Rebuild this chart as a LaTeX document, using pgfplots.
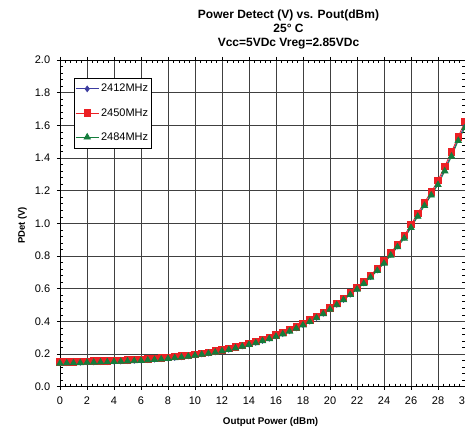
\documentclass[border=0pt]{standalone}
\usepackage{pgfplots}
\pgfplotsset{compat=1.18}
\usepackage{pgfplotstable}
\usepackage{fontspec}
\setmainfont{Liberation Sans}
\definecolor{cblue}{RGB}{60,60,160}
\definecolor{cred}{RGB}{236,32,36}
\definecolor{cgreen}{RGB}{20,125,60}

\pgfplotstableread{
x g r b
0 0.143 0.151 0.146
0.5 0.144 0.152 0.147
1 0.145 0.153 0.148
1.5 0.146 0.154 0.149
2 0.148 0.156 0.151
2.5 0.149 0.157 0.152
3 0.150 0.158 0.153
3.5 0.151 0.159 0.154
4 0.153 0.161 0.156
4.5 0.154 0.162 0.157
5 0.156 0.164 0.159
5.5 0.158 0.166 0.161
6 0.160 0.168 0.163
6.5 0.162 0.170 0.165
7 0.165 0.173 0.168
7.5 0.168 0.176 0.171
8 0.172 0.180 0.175
8.5 0.176 0.184 0.179
9 0.180 0.188 0.183
9.5 0.185 0.193 0.188
10 0.191 0.199 0.194
10.5 0.197 0.205 0.200
11 0.203 0.211 0.206
11.5 0.210 0.218 0.213
12 0.218 0.226 0.221
12.5 0.226 0.234 0.229
13 0.236 0.244 0.239
13.5 0.246 0.254 0.249
14 0.257 0.265 0.260
14.5 0.268 0.276 0.271
15 0.280 0.288 0.283
15.5 0.293 0.302 0.296
16 0.307 0.317 0.310
16.5 0.322 0.332 0.325
17 0.339 0.349 0.342
17.5 0.357 0.367 0.360
18 0.377 0.387 0.380
18.5 0.398 0.408 0.401
19 0.421 0.431 0.424
19.5 0.446 0.456 0.449
20 0.473 0.483 0.476
20.5 0.501 0.511 0.504
21 0.531 0.541 0.534
21.5 0.563 0.574 0.566
22 0.596 0.608 0.599
22.5 0.631 0.644 0.635
23 0.669 0.683 0.673
23.5 0.710 0.725 0.714
24 0.755 0.770 0.760
24.5 0.804 0.820 0.810
25 0.855 0.872 0.862
25.5 0.908 0.925 0.915
26 0.973 0.992 0.980
26.5 1.042 1.062 1.050
27 1.108 1.130 1.117
27.5 1.172 1.192 1.181
28 1.236 1.262 1.247
28.5 1.320 1.350 1.333
29 1.410 1.438 1.422
29.5 1.506 1.530 1.517
30 1.585 1.623 1.600
}\datatable

\begin{document}
\begin{tikzpicture}
\begin{axis}[
  scale only axis,
  width=405pt, height=326.7pt,
  xmin=0, xmax=30, ymin=0, ymax=2,
  xtick={0,2,...,30},
  ytick={0,0.2,...,2.0},
  yticklabel style={/pgf/number format/fixed,/pgf/number format/fixed zerofill,/pgf/number format/precision=1},
  /pgf/number format/assume math mode=true,
  minor x tick num=4,
  minor y tick num=4,
  tick align=outside,
  major tick length=3pt,
  minor tick length=-3pt,
  tick style={black, line width=0.6pt},
  grid=major,
  major grid style={black!75, line width=0.75pt},
  axis line style={black, line width=0.8pt},
  ticklabel style={font=\fontsize{11}{13}\selectfont},
  yticklabel style={xshift=-3.3pt},
  xticklabel style={yshift=-3.3pt},
  xlabel={Output Power (dBm)},
  ylabel={PDet (V)},
  xlabel style={font=\bfseries\fontsize{9.8}{11}\selectfont, at={(axis description cs:0.52,0)}, anchor=center, yshift=-35pt},
  ylabel style={font=\bfseries\fontsize{9.5}{11}\selectfont, at={(axis description cs:-0.0926,0.494)}, anchor=center},
  legend style={at={(axis description cs:0.0346,0.945)}, anchor=north west,
    draw=black, line width=0.6pt, fill=white,
    font=\fontsize{11}{13}\selectfont,
    inner xsep=1pt, inner ysep=4pt, row sep=11pt,
    cells={anchor=west}},
  legend image code/.code={\draw[mark repeat=2,mark phase=2,#1] plot coordinates {(0pt,0pt) (11.5pt,0pt) (23pt,0pt)};},
  every axis plot/.append style={line width=0.8pt},
]
\addplot[cblue, mark=diamond*, mark size=2.8pt, mark options={fill=cblue, draw=cblue}] table[x=x,y=b] {\datatable};
\addlegendentry{2412MHz}
\addplot[cred, mark=square*, mark size=3.2pt, mark options={fill=cred, draw=cred}] table[x=x,y=r] {\datatable};
\addlegendentry{2450MHz}
\addplot[cgreen, mark=triangle*, mark size=3.6pt, mark options={fill=cgreen, draw=cgreen}] table[x=x,y=g] {\datatable};
\addlegendentry{2484MHz}
\coordinate (SW) at (rel axis cs:0,0);
\coordinate (NE) at (rel axis cs:1,1);
\end{axis}
\node[font=\bfseries\fontsize{12}{14}\selectfont, align=center, anchor=north, inner sep=0pt] at ([xshift=228.5pt,yshift=377pt]SW) {Power Detect (V) vs. Pout(dBm)\\25° C\\Vcc=5VDc Vreg=2.85VDc};
\pgfresetboundingbox
\path[use as bounding box] ([xshift=-60pt,yshift=-40.3pt]SW) rectangle ([yshift=60pt]NE);
\end{tikzpicture}
\end{document}
